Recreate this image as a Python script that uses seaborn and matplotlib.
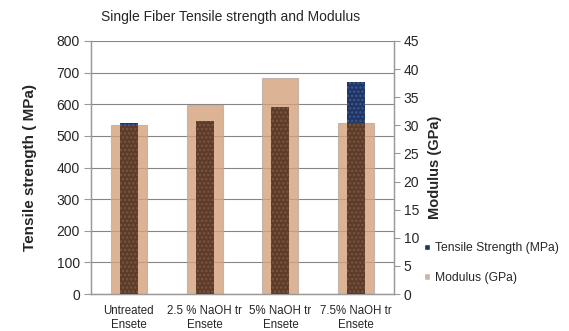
import matplotlib
matplotlib.use("Agg")
import matplotlib.pyplot as plt
from matplotlib.patches import Rectangle, Patch
import seaborn as sns
import pandas as pd

# Single-fibre test results per treatment
categories = ["Untreated\nEnsete", "2.5 % NaOH tr\nEnsete", "5% NaOH tr\nEnsete", "7.5% NaOH tr\nEnsete"]
tensile_mpa = [542, 546, 591, 669]
modulus_gpa = [30.1, 33.6, 38.4, 30.5]
left_ticks = [0, 100, 200, 300, 400, 500, 600, 700, 800]
right_ticks = [0, 5, 10, 15, 20, 25, 30, 35, 40, 45]

sns.set_style("white")
plt.rcParams["font.family"] = ["Liberation Sans", "DejaVu Sans"]
plt.rcParams["hatch.linewidth"] = 1.2

navy = "#1f3462"
navy_dots = "#3d5a94"
tan = "#d4a27b"
brown = "#5c3b29"
brown_dots = "#7a5540"
axis_grey = "#9a9a9a"

df = pd.DataFrame({"cat": categories, "tensile": tensile_mpa, "modulus": modulus_gpa})

fig = plt.figure(figsize=(5.69, 3.31), dpi=100)
ax = fig.add_axes([91 / 569, 1 - 294 / 331, (394 - 91) / 569, (294 - 41) / 331])

sns.barplot(data=df, x="cat", y="tensile", ax=ax, color=navy, saturation=1,
            width=0.24, linewidth=0, edgecolor=navy_dots, zorder=2)
for p in ax.patches:
    p.set_hatch("....")

ax2 = ax.twinx()
sns.barplot(data=df, x="cat", y="modulus", ax=ax2, color=tan, saturation=1,
            width=0.475, alpha=0.8, linewidth=0.8, edgecolor="#b9aca4")

ax.set_ylim(0, 800)
ax2.set_ylim(0, 45)
ax.set_xlim(-0.5, len(categories) - 0.5)

# Where a tensile bar sits behind a modulus bar it shows as dark brown
for tp, mp in zip(ax.patches, ax2.patches):
    over = Rectangle(tp.get_xy(), tp.get_width(), tp.get_height(),
                     transform=ax.transData, facecolor=brown,
                     edgecolor=brown_dots, linewidth=0, hatch="....", zorder=3)
    over.set_clip_path(mp)
    fig.add_artist(over)

ax.set_yticks(left_ticks)
ax2.set_yticks(right_ticks)
ax.yaxis.grid(True, color="#858585", linewidth=0.8)
ax.set_axisbelow(True)

ax.set_xticks([i for i in range(len(categories))])
ax.set_xticklabels(categories, fontsize=8.3, linespacing=1.2)
ax.set_xticks([i - 0.5 for i in range(len(categories) + 1)], minor=True)
ax.tick_params(axis="x", which="major", length=0, pad=8)
ax.tick_params(axis="x", which="minor", length=4, color=axis_grey, direction="out")
ax.tick_params(axis="y", length=5, color=axis_grey, direction="out", labelsize=10, pad=3)
ax2.tick_params(axis="y", length=4, color=axis_grey, direction="out", labelsize=10, pad=3)

ax.set_xlabel("")
ax.set_ylabel("Tensile strength ( MPa)", fontsize=11, fontweight="bold", labelpad=14)
ax2.set_ylabel("Modulus (GPa)", fontsize=10.5, fontweight="bold", labelpad=6)

for a in (ax, ax2):
    for side in ("left", "right", "bottom"):
        a.spines[side].set_color(axis_grey)
        a.spines[side].set_linewidth(0.9)
    a.spines["top"].set_visible(False)

fig.text(101 / 569, 1 - 17 / 331, "Single Fiber Tensile strength and Modulus",
         fontsize=10, ha="left", va="center")

handles = [Patch(facecolor=navy), Patch(facecolor="#c9b4a6")]
fig.legend(handles, ["Tensile Strength (MPa)", "Modulus (GPa)"],
           loc="center left", bbox_to_anchor=(418 / 569, 1 - 263 / 331),
           frameon=False, fontsize=8.7, handlelength=0.5, handleheight=0.5,
           handletextpad=0.4, labelspacing=1.45, borderpad=0)

fig.savefig("out.png", dpi=100)
